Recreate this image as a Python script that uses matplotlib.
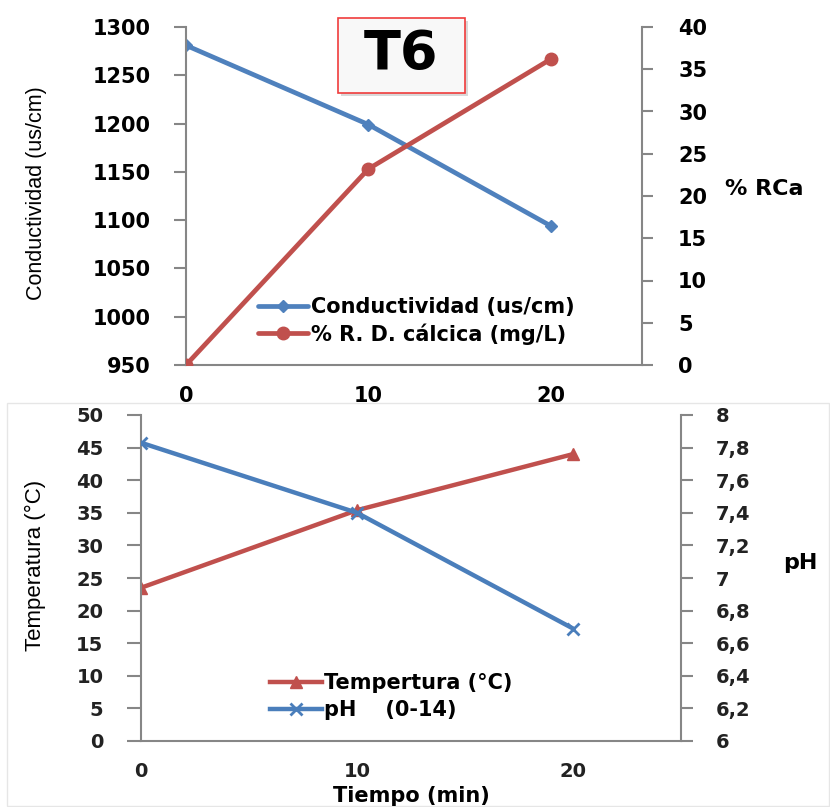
import matplotlib
matplotlib.use("Agg")
import matplotlib.pyplot as plt
from matplotlib.patches import Rectangle

# ---- data -------------------------------------------------------------
tiempo = [0, 10, 20]
conductividad = [1281, 1199, 1094]          # us/cm
rca = [0, 23.2, 36.2]                       # % R. D. cálcica
temperatura = [23.5, 35.4, 44.0]            # °C
ph = [7.83, 7.40, 6.69]

x_ticks = [0, 10, 20]
cond_ticks = list(range(950, 1301, 50))
rca_ticks = list(range(0, 41, 5))
temp_ticks = list(range(0, 51, 5))
ph_ticks = [6.0, 6.2, 6.4, 6.6, 6.8, 7.0, 7.2, 7.4, 7.6, 7.8, 8.0]
ph_tick_labels = ["6", "6,2", "6,4", "6,6", "6,8", "7", "7,2", "7,4", "7,6", "7,8", "8"]

lbl_cond = "Conductividad (us/cm)"
lbl_rca = "% R. D. cálcica (mg/L)"
lbl_temp = "Tempertura (°C)"
lbl_ph = "pH    (0-14)"

# ---- styling ----------------------------------------------------------
BLUE = "#4F81BD"
RED = "#C0504D"
GRAY = "#868686"
W, H = 830, 807
NARROW = ["Liberation Sans", "DejaVu Sans"]

plt.rcParams["font.family"] = ["DejaVu Sans"]
plt.rcParams["font.weight"] = "bold"
plt.rcParams["axes.labelweight"] = "bold"

fig = plt.figure(figsize=(W / 100, H / 100), dpi=100)


def fx(px):
    return px / W


def fy(py):
    return 1 - py / H


def style_axes(ax, axb, spine_w=1.5):
    for s in ("top", "right"):
        ax.spines[s].set_visible(False)
    for s in ("top", "left", "bottom"):
        axb.spines[s].set_visible(False)
    for s in ("left", "bottom"):
        ax.spines[s].set_color(GRAY)
        ax.spines[s].set_linewidth(spine_w)
    axb.spines["right"].set_color(GRAY)
    axb.spines["right"].set_linewidth(spine_w)


# ---- upper chart: conductividad / % RCa -------------------------------
ax1 = fig.add_axes([fx(186), fy(365), fx(642) - fx(186), fy(27) - fy(365)])
ax1b = ax1.twinx()

l1, = ax1.plot(tiempo, conductividad, color=BLUE, lw=3.4, marker="D", ms=6,
               label=lbl_cond, solid_capstyle="round")
l2, = ax1b.plot(tiempo, rca, color=RED, lw=3.4, marker="o", ms=9,
                label=lbl_rca, solid_capstyle="round")

ax1.set_xlim(0, 25)
ax1.set_ylim(950, 1300)
ax1b.set_ylim(0, 40)
ax1.set_xticks(x_ticks)
ax1.set_yticks(cond_ticks)
ax1b.set_yticks(rca_ticks)
style_axes(ax1, ax1b)

ax1.tick_params(axis="x", length=0, pad=15, labelsize=15)
ax1.tick_params(axis="y", direction="out", length=8.6, width=1.5, color=GRAY,
                pad=17, labelsize=15)
ax1b.tick_params(axis="y", direction="out", length=8, width=1.5, color=GRAY,
                 pad=18, labelsize=15)

ax1.set_ylabel("Conductividad (us/cm)", family=NARROW, weight="normal", fontsize=15.5)
ax1.yaxis.set_label_coords((37 - 186) / 456, (365 - 193) / 338)
ax1.yaxis.label.set(ha="center", va="center")

ax1b.set_ylabel("% RCa", rotation=0, fontsize=16, weight="bold")
ax1b.yaxis.set_label_coords(1 + (725 - 642) / 456, (365 - 189) / 338)
ax1b.yaxis.label.set(ha="left", va="center")

ax1b.legend([l1, l2], [lbl_cond, lbl_rca], loc="upper left",
            bbox_to_anchor=(fx(258), fy(297)), bbox_transform=fig.transFigure,
            frameon=False, borderpad=0, borderaxespad=0, numpoints=1,
            handlelength=2.4, handletextpad=0.15, labelspacing=0.3,
            prop=dict(weight="bold", size=15))

# title box
fig.add_artist(Rectangle((fx(341), fy(96)), fx(127), fy(21) - fy(96),
                         transform=fig.transFigure, facecolor="#d9d9d9",
                         edgecolor="none", zorder=5))
fig.add_artist(Rectangle((fx(338), fy(93)), fx(127), fy(18) - fy(93),
                         transform=fig.transFigure, facecolor="#f8f8f8",
                         edgecolor="#f03c3c", lw=1.2, zorder=6))
fig.text(fx(401), fy(54), "T6", ha="center", va="center", fontsize=39,
         weight="bold", zorder=7)

# white panel under the lower chart
fig.add_artist(Rectangle((0, 0), 1, fy(402), transform=fig.transFigure,
                         facecolor="white", edgecolor="none", zorder=1.5))
fig.add_artist(Rectangle((fx(7), fy(806)), fx(822), fy(403) - fy(806),
                         transform=fig.transFigure, facecolor="none",
                         edgecolor="#e6e6e6", lw=1, zorder=1.6))

# ---- lower chart: temperatura / pH ------------------------------------
ax2 = fig.add_axes([fx(141), fy(741), fx(681) - fx(141), fy(415) - fy(741)])
ax2b = ax2.twinx()
ax2.set_zorder(2)
ax2b.set_zorder(3)

l3, = ax2.plot(tiempo, temperatura, color=RED, lw=3.2, marker="^", ms=8,
               label=lbl_temp)
l4, = ax2b.plot(tiempo, ph, color="#4A7EBB", lw=3.2, marker="x", ms=8, mew=2,
                label=lbl_ph)

ax2.set_xlim(0, 25)
ax2.set_ylim(0, 50)
ax2b.set_ylim(6, 8)
ax2.set_xticks(x_ticks)
ax2.set_yticks(temp_ticks)
ax2b.set_yticks(ph_ticks)
ax2b.set_yticklabels(ph_tick_labels)
style_axes(ax2, ax2b)

ax2.tick_params(axis="x", length=0, pad=15, labelsize=14, labelcolor="#222222")
ax2.tick_params(axis="y", direction="out", length=10, width=1.5, color=GRAY,
                pad=17, labelsize=14, labelcolor="#222222")
ax2b.tick_params(axis="y", direction="out", length=8.6, width=1.5, color=GRAY,
                 pad=16.5, labelsize=14, labelcolor="#222222")

ax2.set_ylabel("Temperatura (°C)", family=NARROW, weight="normal", fontsize=16)
ax2.yaxis.set_label_coords((35 - 141) / 540, (741 - 565) / 326)
ax2.yaxis.label.set(ha="center", va="center")

ax2b.set_ylabel("pH", rotation=0, fontsize=16, weight="bold")
ax2b.yaxis.set_label_coords(1 + (783 - 681) / 540, (741 - 563) / 326)
ax2b.yaxis.label.set(ha="left", va="center")

ax2.set_xlabel("Tiempo (min)", fontsize=15, weight="bold")
ax2.xaxis.set_label_coords(0.5, (741 - 796) / 326)
ax2.xaxis.label.set(va="center")

ax2b.legend([l3, l4], [lbl_temp, lbl_ph], loc="upper left",
            bbox_to_anchor=(fx(270), fy(673)), bbox_transform=fig.transFigure,
            frameon=False, borderpad=0, borderaxespad=0, numpoints=1,
            handlelength=2.5, handletextpad=0.1, labelspacing=0.35,
            prop=dict(weight="bold", size=15))

fig.savefig("out.png", dpi=100)
